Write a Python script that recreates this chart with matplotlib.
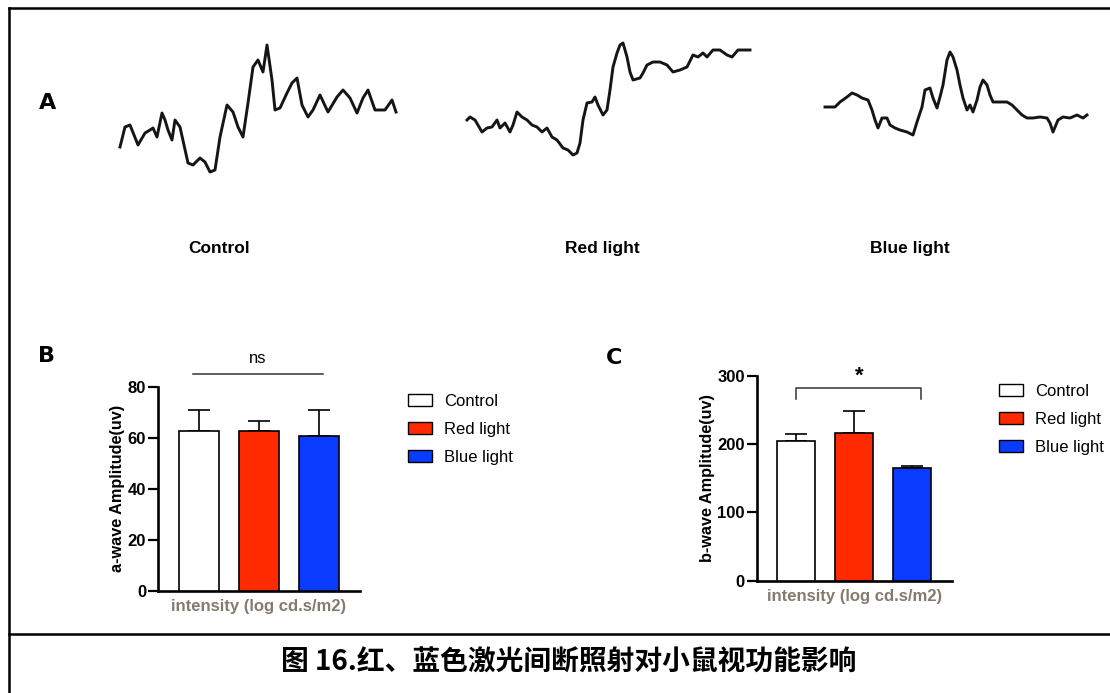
import numpy as np
import matplotlib
matplotlib.use('Agg')
import matplotlib.pyplot as plt
from matplotlib.lines import Line2D
from matplotlib.patches import Patch

plt.rcParams['font.family'] = ['Liberation Sans', 'DejaVu Sans']

W, H = 1110, 693

# ERG traces (time, depth below top of trace box)
ctrl_t = [20, 25, 30, 38, 45, 50, 53, 57, 62, 65, 68, 72, 75, 80, 88, 93, 100, 105, 110, 115,
          120, 127, 133, 138, 143, 148, 153, 158, 163, 167, 172, 175, 180, 187, 192, 197, 202,
          208, 213, 220, 228, 237, 243, 250, 257, 263, 268, 275, 285, 292, 296]
ctrl_v = [117, 97, 95, 115, 103, 100, 98, 107, 83, 90, 100, 110, 90, 97, 133, 135, 128, 132, 142, 140,
          107, 75, 82, 97, 107, 73, 37, 30, 42, 15, 50, 80, 78, 63, 53, 48, 75,
          87, 80, 65, 82, 67, 60, 68, 83, 68, 60, 80, 80, 70, 82]

red_t = [17, 20, 25, 32, 37, 42, 47, 50, 55, 60, 63, 67, 72, 77, 82, 87, 92, 97, 102, 107,
         113, 118, 123, 127, 130, 133, 137, 142, 145, 148, 153, 157, 160, 163, 167, 170, 173, 177, 180, 183,
         190, 193, 197, 203, 210, 217, 223, 230, 237, 243, 248, 253, 257, 263, 270, 277, 282, 288, 300]
red_v = [90, 87, 90, 102, 98, 97, 90, 98, 93, 102, 95, 82, 87, 90, 95, 97, 102, 98, 107, 110,
         118, 120, 125, 123, 113, 90, 73, 72, 67, 75, 85, 80, 60, 37, 23, 15, 13, 27, 42, 50,
         48, 43, 35, 32, 32, 35, 42, 40, 37, 25, 27, 23, 27, 20, 20, 25, 27, 20, 20]

blue_t = [25, 35, 40, 47, 52, 57, 62, 68, 72, 75, 78, 82, 87, 90, 95, 100, 107, 113, 117, 122,
          125, 130, 133, 137, 140, 143, 147, 150, 153, 157, 160, 163, 167, 170, 173, 177, 180, 183, 187, 190,
          193, 200, 207, 212, 217, 222, 227, 233, 240, 247, 250, 253, 258, 263, 270, 277, 283, 287]
blue_v = [77, 77, 72, 67, 63, 65, 68, 70, 80, 90, 98, 88, 88, 95, 98, 100, 102, 105, 92, 77,
          60, 58, 68, 78, 67, 55, 30, 22, 27, 40, 55, 68, 80, 75, 82, 70, 57, 50, 55, 65,
          72, 72, 72, 75, 80, 85, 88, 88, 87, 88, 93, 102, 90, 87, 88, 85, 88, 85]

groups = ['Control', 'Red light', 'Blue light']
bar_colors = ['white', '#ff2a00', '#0a3cff']

a_wave = [62.7, 62.7, 60.5]
a_err = [8.2, 3.7, 10.2]
b_wave = [205, 216, 165]
b_err = [10, 32, 2.5]

caption = '图 16.红、蓝色激光间断照射对小鼠视功能影响'


def box(x0, y0, x1, y1):
    # pixel box (top-left origin) -> figure fraction
    return [x0 / W, 1 - y1 / H, (x1 - x0) / W, (y1 - y0) / H]


fig = plt.figure(figsize=(W / 100, H / 100), dpi=100)

# frame
fig.add_artist(Line2D([8.5 / W, 1], [1 - 7.5 / H] * 2, color='black', lw=1.8))
fig.add_artist(Line2D([8.5 / W] * 2, [0, 1 - 7.5 / H], color='black', lw=1.8))
fig.add_artist(Line2D([8.5 / W, 1], [1 - 633.5 / H] * 2, color='black', lw=1.8))

# panel A traces
traces = [(ctrl_t, ctrl_v, 100, 30), (red_t, red_v, 450, 30), (blue_t, blue_v, 800, 30)]
for t, v, ox, oy in traces:
    ax = fig.add_axes(box(ox + min(t), oy + min(v), ox + max(t), oy + max(v)))
    ax.plot(t, v, color='#151515', lw=2.1, clip_on=False)
    ax.set_xlim(min(t), max(t))
    ax.set_ylim(max(v), min(v))
    ax.axis('off')

for name, x in zip(groups, [219, 602, 910]):
    fig.text(x / W, 1 - 249 / H, name, ha='center', va='center', fontsize=12.5, fontweight='bold')

for letter, x, y in [('A', 48, 103), ('B', 47, 356), ('C', 614, 358)]:
    fig.text(x / W, 1 - y / H, letter, ha='center', va='center', fontsize=16,
             fontweight='heavy', family='DejaVu Sans')


def bar_panel(rect, vals, errs, ymax, step, ylabel, leg_anchor):
    ax = fig.add_axes(rect)
    x = np.arange(len(vals))
    ax.bar(x, vals, width=0.66, color=bar_colors, edgecolor='black', linewidth=1.2, zorder=3)
    ax.errorbar(x, vals, yerr=[np.zeros(len(errs)), errs], fmt='none', ecolor='black',
                elinewidth=1.2, capsize=8, capthick=1.2, zorder=2)
    ax.set_xlim(-0.68, 2.68)
    ax.set_ylim(0, ymax)
    ax.set_yticks(np.arange(0, ymax + 1, step))
    ax.set_xticks([])
    for s in ['top', 'right']:
        ax.spines[s].set_visible(False)
    for s in ['left', 'bottom']:
        ax.spines[s].set_linewidth(1.9)
    ax.tick_params(axis='y', direction='out', length=7, width=1.6, labelsize=12, pad=1.5)
    for lab in ax.get_yticklabels():
        lab.set_fontweight('bold')
    ax.set_ylabel(ylabel, fontsize=11.7, fontweight='bold', labelpad=2)
    ax.set_xlabel('intensity (log cd.s/m2)', fontsize=12, fontweight='bold',
                  color='#857a6e', labelpad=6)
    handles = [Patch(facecolor=c, edgecolor='black', linewidth=1) for c in bar_colors]
    ax.legend(handles, groups, loc='upper left', bbox_to_anchor=(leg_anchor[0] / W, 1 - leg_anchor[1] / H),
              bbox_transform=fig.transFigure, frameon=False, fontsize=12,
              handlelength=1.45, handleheight=0.72, handletextpad=0.72,
              labelspacing=0.78, borderpad=0, borderaxespad=0)
    return ax


axb = bar_panel(box(158, 386.7, 360, 590.7), a_wave, a_err, 80, 20,
                'a-wave Amplitude(uv)', (408, 394))
axb.plot([-0.1, 2.07], [85, 85], color='#333333', lw=1.1, clip_on=False)
axb.text(0.98, 88, 'ns', ha='center', va='bottom', fontsize=12)

axc = bar_panel(box(756.7, 376, 951.7, 580.7), b_wave, b_err, 300, 100,
                'b-wave Amplitude(uv)', (999, 383.5))
axc.plot([0, 0, 2.15, 2.15], [267, 282, 282, 267], color='#333333', lw=1.1, clip_on=False)
axc.text(1.08, 285, '*', ha='center', va='bottom', fontsize=16, fontweight='bold')

fig.text(569 / W, 1 - 663 / H, caption, ha='center', va='center', fontsize=20,
         fontweight='bold', family=['Noto Sans CJK SC', 'DejaVu Sans'])

fig.savefig('out.png', dpi=100)
